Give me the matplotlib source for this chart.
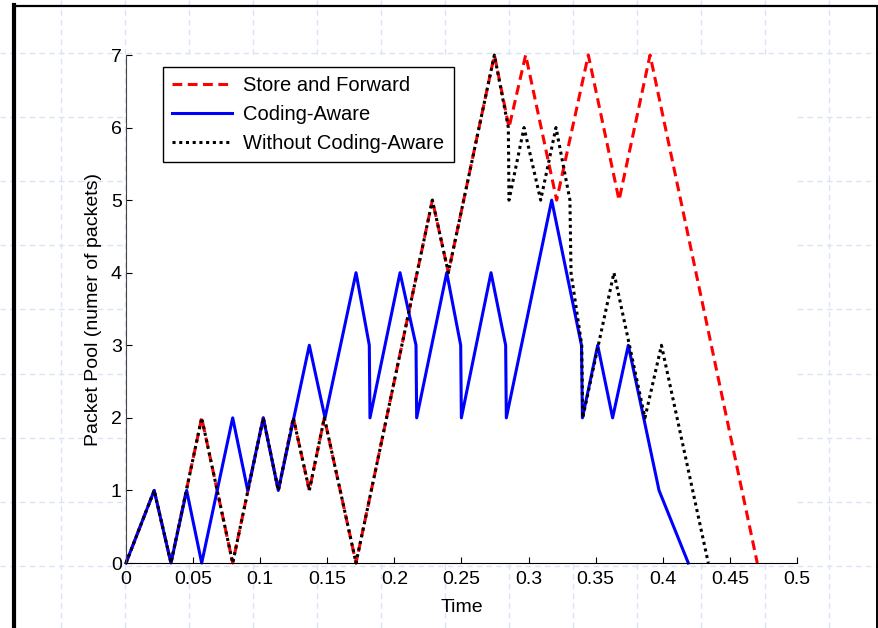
import matplotlib
matplotlib.use("Agg")
import matplotlib.pyplot as plt
from matplotlib.lines import Line2D

plt.rcParams['font.family'] = ['Liberation Sans', 'DejaVu Sans']

# data
t_sf = [0, 0.021, 0.0335, 0.0564, 0.0795, 0.1023, 0.1135, 0.1247, 0.1366, 0.1478,
        0.1714, 0.2283, 0.2402, 0.2745, 0.2854, 0.2978, 0.3209, 0.3445, 0.3674,
        0.3905, 0.4704]
pool_sf = [0, 1, 0, 2, 0, 2, 1, 2, 1, 2, 0, 5, 4, 7, 6, 7, 5, 7, 5, 7, 0]

t_ca = [0, 0.021, 0.0335, 0.0452, 0.0564, 0.0795, 0.0907, 0.1023, 0.1135, 0.1366,
        0.1483, 0.1714, 0.1813, 0.1818, 0.2042, 0.2161, 0.2166, 0.239, 0.2494,
        0.2499, 0.272, 0.2829, 0.2834, 0.3172, 0.3394, 0.3401, 0.3515, 0.3626,
        0.3743, 0.3972, 0.419]
pool_ca = [0, 1, 0, 1, 0, 2, 1, 2, 1, 3, 2, 4, 3, 2, 4, 3, 2, 4, 3, 2, 4, 3, 2,
           5, 3, 2, 3, 2, 3, 1, 0]

t_wo = [0, 0.021, 0.0335, 0.0564, 0.0795, 0.1023, 0.1135, 0.1247, 0.1366, 0.1478,
        0.1714, 0.2283, 0.2402, 0.2745, 0.2849, 0.2854, 0.2966, 0.309, 0.3204,
        0.3308, 0.3316, 0.3396, 0.3403, 0.3636, 0.3867, 0.399, 0.4339]
pool_wo = [0, 1, 0, 2, 0, 2, 1, 2, 1, 2, 0, 5, 4, 7, 6, 5, 6, 5, 6, 5, 4, 3, 2,
           4, 2, 3, 0]

labels = ['Store and Forward', 'Coding-Aware', 'Without Coding-Aware']
xticks = [0, 0.05, 0.1, 0.15, 0.2, 0.25, 0.3, 0.35, 0.4, 0.45, 0.5]
xticklabels = ['0', '0.05', '0.1', '0.15', '0.2', '0.25', '0.3', '0.35', '0.4', '0.45', '0.5']
yticks = [0, 1, 2, 3, 4, 5, 6, 7]

W, H = 879, 628
fig = plt.figure(figsize=(W / 100, H / 100), dpi=100)
fig.patch.set_facecolor('white')


def px_line(xs, ys, **kw):
    fig.add_artist(Line2D([x / W for x in xs], [1 - y / H for y in ys],
                          transform=fig.transFigure, **kw))


# pale dashed page grid behind the chart
grid_kw = dict(color='#dbe3f8', lw=1.0, linestyle=(0, (4, 3)), zorder=-2)
for gx in range(61, 879, 64):
    px_line([gx, gx], [0, H], **grid_kw)
gy = 53.0
while gy < H:
    px_line([0, W], [gy, gy], **grid_kw)
    gy += 64.1

# black page frame
px_line([14, 14], [5, H], color='black', lw=3, zorder=-1)
px_line([14, 877], [6, 6], color='black', lw=1.6, zorder=-1)
px_line([877, 877], [6, H], color='black', lw=1.4, zorder=-1)

ax = fig.add_axes([126 / W, 1 - 563 / H, (797 - 126) / W, (563 - 55) / H])
ax.set_facecolor('white')

ax.plot(t_sf, pool_sf, color='red', lw=2.2, linestyle=(0, (3.2, 1.8)),
        label=labels[0], clip_on=False)
ax.plot(t_ca, pool_ca, color='blue', lw=2.2, label=labels[1], clip_on=False)
ax.plot(t_wo, pool_wo, color='black', lw=2.2, linestyle=(0, (1, 1.2)),
        label=labels[2], clip_on=False)

ax.set_xlim(0, 0.5)
ax.set_ylim(0, 7)
ax.set_xticks(xticks)
ax.set_xticklabels(xticklabels)
ax.set_yticks(yticks)
ax.tick_params(direction='in', length=4, width=0.8, labelsize=14, pad=3)
ax.tick_params(axis='x', pad=6)
for s in ['top', 'right']:
    ax.spines[s].set_visible(False)
ax.spines['left'].set_color('#444444')
ax.spines['bottom'].set_color('black')

ax.set_xlabel('Time', fontsize=14, labelpad=8)
ax.set_ylabel('Packet Pool (numer of packets)', fontsize=14, labelpad=6)

leg = ax.legend(loc='upper left', bbox_to_anchor=(0.055, 0.977), borderaxespad=0,
                fontsize=14.5, fancybox=False, framealpha=1, edgecolor='black',
                handlelength=3.0, handletextpad=0.55, labelspacing=0.5,
                borderpad=0.45)
leg.get_frame().set_linewidth(1.0)

fig.savefig('out.png', dpi=100)
